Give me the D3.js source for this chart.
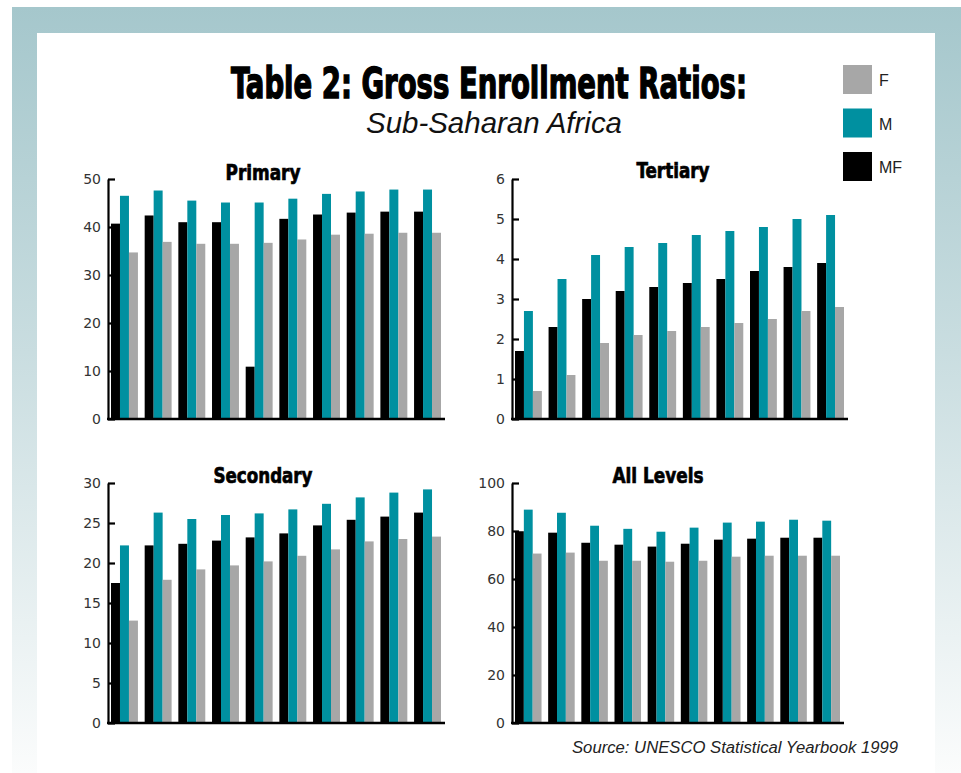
<!DOCTYPE html>
<html>
<head>
<meta charset="utf-8">
<script src="https://cdn.jsdelivr.net/npm/d3@7"></script>
<style>
  html, body { margin: 0; padding: 0; background: #fff; }
  svg { display: block; }
  .panel-title { font-family: "Liberation Sans Narrow", "DejaVu Sans Condensed", sans-serif; font-weight: bold; }
</style>
</head>
<body>
<script>
const width = 961, height = 773;

// ten yearly groups per panel
const series = ['MF', 'M', 'F'];
const color = d3.scaleOrdinal().domain(series).range(['#000000', '#0090a0', '#a7a7a7']);

const primaryMF = [40.7, 42.4, 41.0, 41.0, 10.9, 41.7, 42.6, 43.0, 43.2, 43.2];
const primaryM  = [46.5, 47.6, 45.5, 45.1, 45.1, 45.9, 46.9, 47.4, 47.8, 47.8];
const primaryF  = [34.7, 36.9, 36.5, 36.5, 36.7, 37.4, 38.4, 38.6, 38.8, 38.8];

const tertiaryMF = [1.7, 2.3, 3.0, 3.2, 3.3, 3.4, 3.5, 3.7, 3.8, 3.9];
const tertiaryM  = [2.7, 3.5, 4.1, 4.3, 4.4, 4.6, 4.7, 4.8, 5.0, 5.1];
const tertiaryF  = [0.7, 1.1, 1.9, 2.1, 2.2, 2.3, 2.4, 2.5, 2.7, 2.8];

const secondaryMF = [17.5, 22.2, 22.4, 22.8, 23.2, 23.7, 24.7, 25.4, 25.8, 26.3];
const secondaryM  = [22.2, 26.3, 25.5, 26.0, 26.2, 26.7, 27.4, 28.2, 28.8, 29.2];
const secondaryF  = [12.8, 17.9, 19.2, 19.7, 20.2, 20.9, 21.7, 22.7, 23.0, 23.3];

const allMF = [79.9, 79.3, 75.1, 74.3, 73.5, 74.7, 76.4, 76.8, 77.2, 77.2];
const allM  = [88.9, 87.6, 82.2, 80.9, 79.7, 81.4, 83.5, 83.9, 84.7, 84.3];
const allF  = [70.6, 71.0, 67.6, 67.6, 67.2, 67.6, 69.3, 69.7, 69.7, 69.7];

const primaryTicks   = [0, 10, 20, 30, 40, 50];
const tertiaryTicks  = [0, 1, 2, 3, 4, 5, 6];
const secondaryTicks = [0, 5, 10, 15, 20, 25, 30];
const allTicks       = [0, 20, 40, 60, 80, 100];

const panels = [
    { title: 'Primary',   mf: primaryMF,   m: primaryM,   f: primaryF,   ticks: primaryTicks,
      x0: 108, x1: 445, top: 179, bottom: 419, tx: 263, ty: 180, tw: 75 },
    { title: 'Tertiary',  mf: tertiaryMF,  m: tertiaryM,  f: tertiaryF,  ticks: tertiaryTicks,
      x0: 512, x1: 848, top: 179, bottom: 419, tx: 673, ty: 178, tw: 73 },
    { title: 'Secondary', mf: secondaryMF, m: secondaryM, f: secondaryF, ticks: secondaryTicks,
      x0: 108, x1: 445, top: 483, bottom: 723, tx: 263, ty: 483, tw: 99 },
    { title: 'All Levels', mf: allMF,      m: allM,       f: allF,       ticks: allTicks,
      x0: 512, x1: 844, top: 483, bottom: 723, tx: 658, ty: 483, tw: 91 }
];

const svg = d3.select('body').append('svg')
    .attr('width', width)
    .attr('height', height);

// background frame
const grad = svg.append('defs').append('linearGradient')
    .attr('id', 'frame')
    .attr('x1', 0).attr('y1', 0).attr('x2', 0).attr('y2', 1);
grad.append('stop').attr('offset', '0%').attr('stop-color', '#a5c7cc');
grad.append('stop').attr('offset', '45%').attr('stop-color', '#c9dde0');
grad.append('stop').attr('offset', '100%').attr('stop-color', '#fbfcfc');

svg.append('rect')
    .attr('x', 12).attr('y', 7)
    .attr('width', width - 12).attr('height', height - 7)
    .attr('fill', 'url(#frame)');

svg.append('rect')
    .attr('x', 37).attr('y', 33)
    .attr('width', 898).attr('height', height - 33)
    .attr('fill', '#ffffff');

// heading
svg.append('text')
    .attr('x', 489).attr('y', 98)
    .attr('text-anchor', 'middle')
    .attr('textLength', 516)
    .attr('lengthAdjust', 'spacingAndGlyphs')
    .style('font-family', '"Liberation Sans Narrow", "DejaVu Sans Condensed", sans-serif')
    .style('font-weight', 'bold')
    .style('font-size', '42px')
    .style('stroke', '#000')
    .style('stroke-width', 1.4)
    .text('Table 2: Gross Enrollment Ratios:');

svg.append('text')
    .attr('x', 494).attr('y', 133)
    .attr('text-anchor', 'middle')
    .attr('textLength', 256)
    .attr('lengthAdjust', 'spacingAndGlyphs')
    .style('font-family', '"Liberation Sans", Arial, sans-serif')
    .style('font-style', 'italic')
    .style('font-size', '29px')
    .style('fill', '#111')
    .text('Sub-Saharan Africa');

// legend
const legendOrder = ['F', 'M', 'MF'];
const legend = svg.append('g').attr('id', 'legend');
const legendItem = legend.selectAll('g')
    .data(legendOrder)
    .enter()
    .append('g')
    .attr('transform', (d, i) => `translate(843, ${65 + i * 43.5})`);

legendItem.append('rect')
    .attr('width', 29)
    .attr('height', 29)
    .attr('fill', d => color(d));

legendItem.append('text')
    .attr('x', 36)
    .attr('y', 21)
    .style('font-family', '"Liberation Sans", Arial, sans-serif')
    .style('font-size', '16px')
    .style('fill', '#222')
    .text(d => d);

// the four bar panels
panels.forEach(p => {
    const g = svg.append('g');

    const rows = p.mf.map((v, i) => ({ i: i, MF: p.mf[i], M: p.m[i], F: p.f[i] }));

    const x = d3.scaleBand()
        .domain(d3.range(rows.length))
        .range([p.x0 + 3, p.x1 - 4])
        .paddingInner(0.2)
        .paddingOuter(0);

    const xs = d3.scaleBand()
        .domain(series)
        .range([0, x.bandwidth()]);

    const y = d3.scaleLinear()
        .domain([p.ticks[0], p.ticks[p.ticks.length - 1]])
        .range([p.bottom, p.top]);

    const groups = g.selectAll('.grp')
        .data(rows)
        .enter()
        .append('g')
        .attr('class', 'grp')
        .attr('transform', d => `translate(${x(d.i)}, 0)`);

    groups.selectAll('rect')
        .data(d => series.map(s => ({ key: s, value: d[s] })))
        .enter()
        .append('rect')
        .attr('x', d => xs(d.key))
        .attr('y', d => y(d.value))
        .attr('width', xs.bandwidth())
        .attr('height', d => y(0) - y(d.value))
        .attr('fill', d => color(d.key));

    const yAxis = d3.axisLeft(y)
        .tickValues(p.ticks)
        .tickFormat(d3.format('d'))
        .tickSizeInner(-7)
        .tickSizeOuter(0)
        .tickPadding(7);

    g.append('g')
        .attr('transform', `translate(${p.x0}, 0)`)
        .call(yAxis)
        .call(a => a.select('.domain').attr('stroke', '#000').attr('stroke-width', 2.2))
        .call(a => a.selectAll('.tick line').attr('stroke', '#000').attr('stroke-width', 2.2))
        .call(a => a.selectAll('.tick text')
            .attr('font-family', '"DejaVu Sans", sans-serif')
            .attr('font-size', 14)
            .attr('fill', '#333'));

    g.append('line')
        .attr('x1', p.x0 - 1).attr('x2', p.x1)
        .attr('y1', y(0)).attr('y2', y(0))
        .attr('stroke', '#000')
        .attr('stroke-width', 2.5);

    g.append('text')
        .attr('class', 'panel-title')
        .attr('x', p.tx).attr('y', p.ty)
        .attr('text-anchor', 'middle')
        .attr('textLength', p.tw)
        .attr('lengthAdjust', 'spacingAndGlyphs')
        .style('font-size', '22px')
        .style('stroke', '#000')
        .style('stroke-width', 0.7)
        .text(p.title);
});

svg.append('text')
    .attr('x', 898).attr('y', 753)
    .attr('text-anchor', 'end')
    .attr('textLength', 326)
    .attr('lengthAdjust', 'spacingAndGlyphs')
    .style('font-family', '"Liberation Sans", Arial, sans-serif')
    .style('font-style', 'italic')
    .style('font-size', '16px')
    .style('fill', '#222')
    .text('Source: UNESCO Statistical Yearbook 1999');
</script>
</body>
</html>
